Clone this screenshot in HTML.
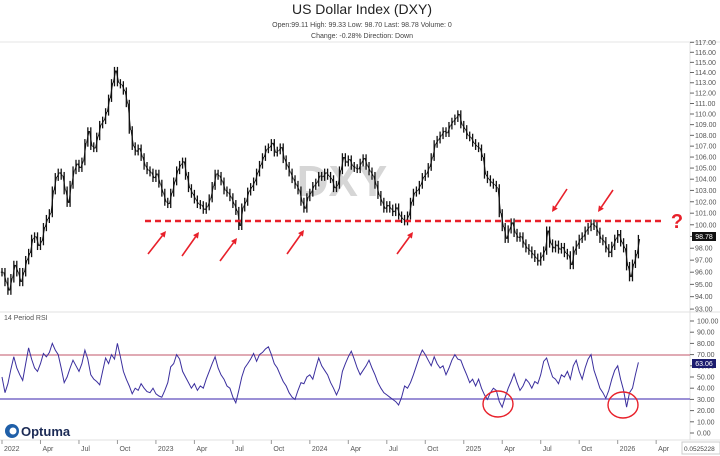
<!DOCTYPE html>
<html><head><meta charset="utf-8">
<style>
html,body{margin:0;padding:0;background:#fff;}
body{width:720px;height:456px;overflow:hidden;font-family:"Liberation Sans",sans-serif;}
svg{display:block}
</style></head>
<body>
<svg id="chart" width="720" height="456" viewBox="0 0 720 456" xmlns="http://www.w3.org/2000/svg" font-family="Liberation Sans, sans-serif">
  <text x="362" y="14" text-anchor="middle" font-size="14" fill="#222">US Dollar Index (DXY)</text>
  <text x="362" y="27" text-anchor="middle" font-size="7" fill="#444">Open:99.11   High: 99.33   Low: 98.70   Last: 98.78   Volume: 0</text>
  <text x="362" y="38" text-anchor="middle" font-size="7" fill="#444">Change: -0.28%   Direction: Down</text>
  <line x1="0" y1="42" x2="720" y2="42" stroke="#e4e4e4"/>
  <line x1="0" y1="312" x2="720" y2="312" stroke="#e0e0e0"/>
  <line x1="0" y1="440" x2="720" y2="440" stroke="#e0e0e0"/>
  <line x1="690" y1="42" x2="690" y2="440" stroke="#e0e0e0"/>
  <text x="342" y="196" text-anchor="middle" font-size="44" font-weight="bold" fill="#d6d6d6">DXY</text>
  <g id="priceAxis"></g>
  <g id="rsiAxis"></g>
  <g id="dateAxis"></g>
  <line x1="0" y1="355" x2="690" y2="355" stroke="#c0566a" stroke-width="1"/>
  <line x1="0" y1="399" x2="690" y2="399" stroke="#7a6cc8" stroke-width="1.5"/>
  <g id="priceBars"></g>
  <polyline id="rsiLine" fill="none" stroke="#3b2f9e" stroke-width="1"/>
  <text x="4" y="320" font-size="7" fill="#555">14 Period RSI</text>
  <line x1="145" y1="221" x2="662" y2="221" stroke="#e8202a" stroke-width="2.5" stroke-dasharray="6,4"/>
  <text x="677" y="228" text-anchor="middle" font-size="20" font-weight="bold" fill="#e8202a">?</text>
  <g id="arrows" stroke="#e8202a" stroke-width="1.6" fill="#e8202a"></g>
  <ellipse cx="498" cy="404" rx="15" ry="13" fill="none" stroke="#e8202a" stroke-width="1.4"/>
  <ellipse cx="623" cy="405" rx="15" ry="13" fill="none" stroke="#e8202a" stroke-width="1.4"/>
  <rect x="692" y="232" width="24" height="9" fill="#111"/>
  <text x="704" y="239" text-anchor="middle" font-size="7" fill="#fff">98.78</text>
  <rect x="692" y="359" width="24" height="9" fill="#1c1c6e"/>
  <text x="704" y="366" text-anchor="middle" font-size="7" fill="#fff">63.06</text>
  <g>
    <circle cx="12" cy="431" r="7" fill="#1f5fa8"/>
    <circle cx="13" cy="431" r="3.5" fill="#fff"/>
    <text x="21" y="436" font-size="13" font-weight="bold" fill="#1b2a55">Optuma</text>
  </g>
  <rect x="682" y="442" width="38" height="12" fill="#fff" stroke="#ccc"/>
  <text x="684" y="451" font-size="6.5" fill="#444">0.0525228</text>
</svg>
<script>
const closes = [96.0,95.2,94.5,95.5,96.6,96.0,95.2,96.0,97.0,97.6,
98.8,99.0,98.2,98.6,99.8,100.5,101.0,103.0,104.2,104.6,
104.3,103.0,101.9,103.5,104.8,105.4,105.0,105.6,107.3,108.4,
107.0,106.8,107.9,109.0,109.4,110.2,111.5,113.0,114.2,113.0,
112.8,112.2,111.0,108.5,107.0,106.5,106.8,106.0,105.2,104.8,
104.6,104.1,104.5,103.6,102.8,102.0,101.8,102.8,103.8,104.8,
105.3,105.6,104.3,103.2,102.7,102.2,101.8,101.7,101.3,101.6,
102.3,103.4,104.5,104.3,103.8,103.0,102.8,102.4,101.8,101.2,
99.9,101.5,102.0,102.9,103.3,103.8,104.6,105.3,106.0,106.7,
106.9,107.3,106.4,106.6,106.9,105.8,105.2,104.6,104.0,103.5,
103.0,102.0,101.4,102.4,102.8,103.4,103.7,104.3,104.2,104.6,
104.3,104.0,103.2,103.5,104.8,106.0,105.5,105.8,105.2,105.0,
104.9,105.5,105.9,105.2,104.7,104.3,103.5,102.6,102.0,101.4,
101.7,101.4,101.1,101.5,100.8,100.5,100.3,100.8,102.0,102.8,
103.0,103.5,104.2,104.5,105.1,106.0,107.2,107.6,108.0,108.4,
108.2,108.9,109.3,109.6,110.0,109.0,108.6,108.0,107.8,107.3,
107.0,106.8,106.0,104.4,104.0,103.7,103.5,103.2,101.0,99.8,
98.8,99.6,100.2,99.3,98.9,99.0,98.4,98.0,97.8,97.5,
97.2,96.9,97.3,97.8,99.5,98.4,98.0,98.3,97.9,98.1,
97.6,97.4,96.6,97.8,98.3,98.8,99.0,99.5,99.8,100.1,
99.9,99.4,98.8,98.6,98.0,97.6,98.2,98.8,99.2,98.5,
98.0,96.5,95.6,96.7,97.5,98.78];
const rsi = [50,36,44,57,68,58,52,47,62,76,
66,58,55,62,71,68,72,80,74,70,
58,45,50,58,65,60,55,62,74,66,
52,48,46,43,55,67,62,70,66,80,
68,55,48,42,35,40,38,44,40,37,
36,40,35,33,32,38,45,59,62,70,
66,55,50,45,40,44,38,42,40,48,
55,62,68,58,52,48,42,40,32,27,
38,50,58,62,66,71,64,70,72,75,
77,70,62,58,52,46,42,36,32,30,
38,45,44,50,52,48,58,67,60,56,
52,45,40,34,40,55,62,68,73,66,
58,52,56,60,65,58,52,45,40,36,
34,32,30,28,25,32,42,40,45,52,
60,68,74,70,65,60,68,62,58,60,
52,58,65,70,66,65,58,52,45,48,
42,48,40,34,30,36,40,38,28,23,
32,40,46,53,45,38,42,48,45,40,
46,44,52,64,67,58,50,48,44,52,
50,55,48,60,65,55,48,58,66,70,
56,48,40,36,31,38,48,56,60,48,
38,23,36,40,52,63.06];
const priceTicks = [93,94,95,96,97,98,99,100,101,102,103,104,105,106,107,108,109,110,111,112,113,114,115,116,117];
const rsiTicks = [100,90,80,70,60,50,40,30,20,10,0];
const dateLabels = ["2022","Apr","Jul","Oct","2023","Apr","Jul","Oct","2024","Apr","Jul","Oct","2025","Apr","Jul","Oct","2026","Apr"];
const dateWeeks = [0,13,26,39,52,65,78,91,104,117,130,143,156,169,182,195,208,221];

const NS="http://www.w3.org/2000/svg";
const xOf = i => 2 + i*2.96;
const yP = v => 52.3 + (Math.log(116) - Math.log(v))*1162;
const yR = v => 433 - v*1.12;
function mk(tag, attrs, parent){const e=document.createElementNS(NS,tag);for(const k in attrs)e.setAttribute(k,attrs[k]);parent.appendChild(e);return e;}

const pa=document.getElementById('priceAxis');
priceTicks.forEach(v=>{
  const y=yP(v); if(y<38||y>312) return;
  const t=mk('line',{x1:690,y1:y,x2:694,y2:y,stroke:'#666'},pa);
  
  
  const l=mk('text',{x:695,y:y+2.5,'font-size':7,fill:'#555'},pa);
  
  
  l.textContent=v.toFixed(2);
});
const ra=document.getElementById('rsiAxis');
rsiTicks.forEach(v=>{
  const y=yR(v);
  const t=mk('line',{x1:690,y1:y,x2:694,y2:y,stroke:'#666'},ra);
  
  
  const l=mk('text',{x:697,y:y+2.5,'font-size':7,fill:'#555'},ra);
  
  
  l.textContent=v.toFixed(2);
});
const da=document.getElementById('dateAxis');
dateLabels.forEach((s,k)=>{
  const x=xOf(dateWeeks[k]);
  const t=mk('line',{x1:x,y1:440,x2:x,y2:444,stroke:'#999'},da);
  
  
  const l=mk('text',{x:x+2,y:451,'font-size':7,fill:'#555'},da);
  
  
  l.textContent=s;
});
const pb=document.getElementById('priceBars');
closes.forEach((c,i)=>{
  const p = i>0?closes[i-1]:c;
  const hi=Math.max(p,c)+0.35, lo=Math.min(p,c)-0.35, x=xOf(i);
  const b=mk('line',{x1:x,y1:yP(hi),x2:x,y2:yP(lo),stroke:'#111','stroke-width':1.3},pb);
  
  
  const tk=mk('line',{x1:x-1.2,y1:yP(p),x2:x+1.2,y2:yP(c),stroke:'#111','stroke-width':1},pb);
  
  
});
document.getElementById('rsiLine').setAttribute('points', rsi.map((v,i)=>xOf(i).toFixed(1)+','+yR(v).toFixed(1)).join(' '));

const arrowsUp=[[148,254,166,231],[182,256,199,232],[220,261,237,238],[287,254,304,230],[397,254,413,232],[567,189,552,212],[613,190,598,212]];
const ag=document.getElementById('arrows');
arrowsUp.forEach(a=>{
  const [x1,y1,x2,y2]=a, ang=Math.atan2(y2-y1,x2-x1), L=6, W=3;
  const bx=x2-L*Math.cos(ang), by=y2-L*Math.sin(ang);
  const ln=mk('line',{x1:x1,y1:y1,x2:bx,y2:by},ag);
  
  
  const px=-Math.sin(ang)*W, py=Math.cos(ang)*W;
  const hd=mk('polygon',{points:`${x2},${y2} ${bx+px},${by+py} ${bx-px},${by-py}`,stroke:'none'},ag);
  
  
});
</script>
</body></html>
